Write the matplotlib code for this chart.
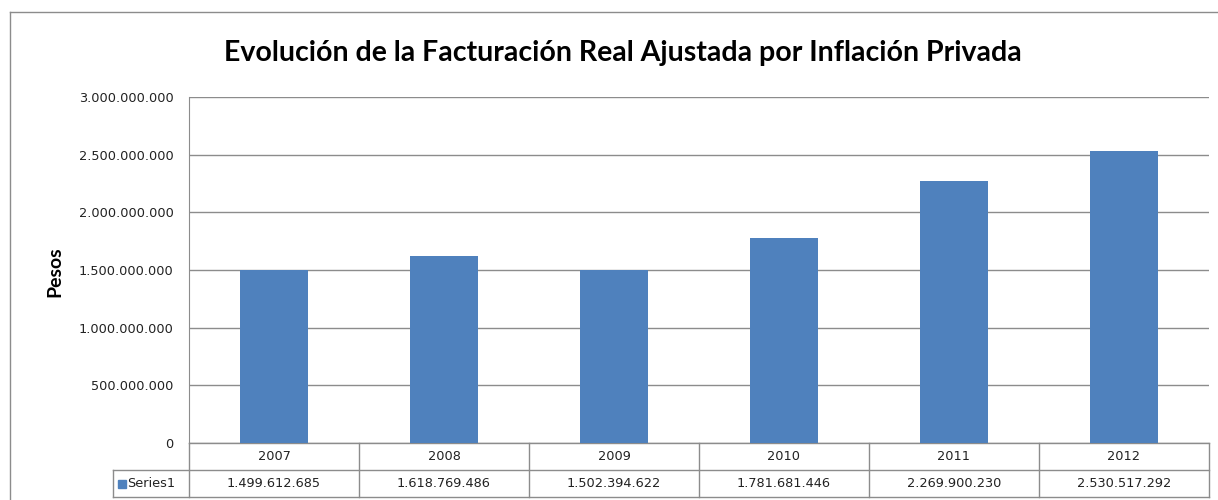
import numpy as np
import matplotlib
matplotlib.use("Agg")
import matplotlib.pyplot as plt
from matplotlib.lines import Line2D
from matplotlib.ticker import FuncFormatter, MultipleLocator

#%% data
years = ["2007", "2008", "2009", "2010", "2011", "2012"]
series_name = "Series1"
values = [1499612685, 1618769486, 1502394622, 1781681446, 2269900230, 2530517292]

title = "Evolución de la Facturación Real Ajustada por Inflación Privada"
ylabel = "Pesos"


def miles(v, pos=None):
    # formato con punto como separador de miles
    return f"{int(v):,}".replace(",", ".")


#%% figure
plt.rcParams['font.family'] = ['Lato', 'DejaVu Sans']
bar_color = "#4F81BD"
line_color = "#8C8C8C"
small = dict(family='DejaVu Sans', fontsize=9.3, color="#222222")

fig = plt.figure(figsize=(12.18, 5.0), dpi=100)
ax = fig.add_axes([189 / 1218, 1 - 443 / 500, 1020 / 1218, 346 / 500])

x = np.arange(len(years))
ax.bar(x, values, width=0.4, color=bar_color, zorder=3)

ax.set_xlim(-0.5, len(years) - 0.5)
ax.set_ylim(0, 3000000000)
ax.yaxis.set_major_locator(MultipleLocator(500000000))
ax.yaxis.set_major_formatter(FuncFormatter(miles))
ax.grid(axis='y', color=line_color, lw=1, zorder=0)
ax.set_xticks([])
ax.tick_params(axis='y', length=0, pad=11)
for lab in ax.get_yticklabels():
    lab.set_fontfamily('DejaVu Sans')
    lab.set_fontsize(9.3)
    lab.set_color("#222222")

for side in ['top', 'right', 'bottom']:
    ax.spines[side].set_visible(False)
ax.spines['left'].set_color(line_color)

fig.text(55 / 1218, 1 - 272 / 500, ylabel, rotation=90, ha='center', va='center',
         fontsize=14, fontweight='bold')

fig.text(0.511, 0.895, title, ha='center', va='center', fontsize=20.5, fontweight='bold')

#%% data table below the axis
tr = ax.get_xaxis_transform()
row_h = 27 / 346
left_key = -0.5 - (189 - 113) / 170
kw = dict(color=line_color, lw=1, transform=tr, clip_on=False)

ax.add_line(Line2D([-0.5, len(years) - 0.5], [0, 0], **kw))
ax.add_line(Line2D([left_key, len(years) - 0.5], [-row_h, -row_h], **kw))
ax.add_line(Line2D([left_key, len(years) - 0.5], [-2 * row_h, -2 * row_h], **kw))
ax.add_line(Line2D([left_key, left_key], [-row_h, -2 * row_h], **kw))
for i in range(len(years) + 1):
    ax.add_line(Line2D([i - 0.5, i - 0.5], [0, -2 * row_h], **kw))

for i, (yr, v) in enumerate(zip(years, values)):
    ax.text(i, -row_h / 2, yr, transform=tr, ha='center', va='center', **small)
    ax.text(i, -1.5 * row_h, miles(v), transform=tr, ha='center', va='center', **small)

ax.plot([left_key + 0.05], [-1.5 * row_h], marker='s', ms=6, color=bar_color,
        transform=tr, clip_on=False)
ax.text(left_key + 0.085, -1.5 * row_h, series_name, transform=tr, ha='left',
        va='center', **small)

#%% chart area border (only top and left visible)
fig.add_artist(Line2D([10 / 1218, 1.02], [1 - 12 / 500, 1 - 12 / 500],
                      color=line_color, lw=1, transform=fig.transFigure))
fig.add_artist(Line2D([10 / 1218, 10 / 1218], [-0.02, 1 - 12 / 500],
                      color=line_color, lw=1, transform=fig.transFigure))

fig.savefig("out.png", dpi=100)
